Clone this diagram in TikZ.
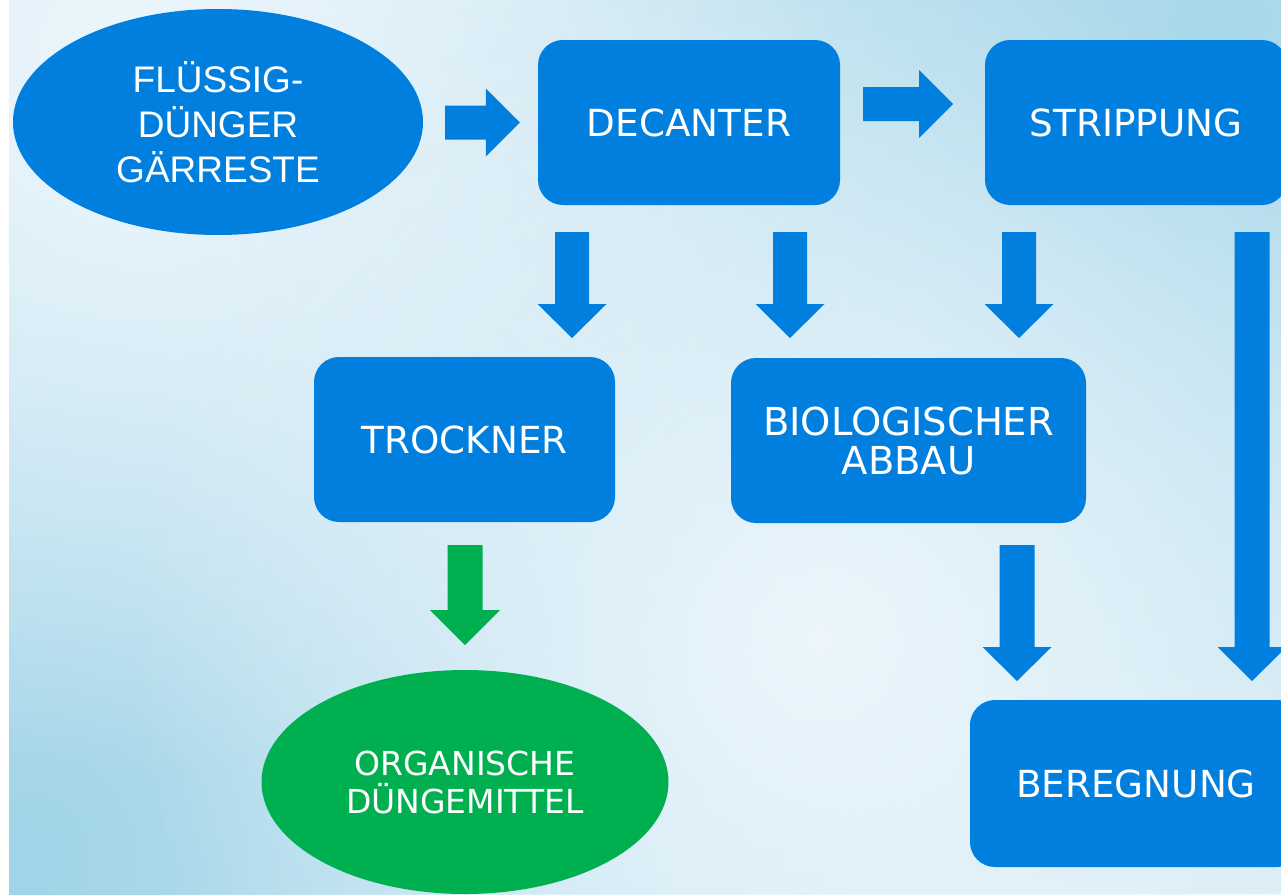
\documentclass[tikz,border=0pt]{standalone}
\usepackage{fontspec}
\setmainfont{DejaVu Sans}
\newfontfamily\arialfont{Liberation Sans}
\usetikzlibrary{shapes.geometric,calc,fadings}
\definecolor{bgbase}{RGB}{222,239,247}
\definecolor{bgtr}{RGB}{168,216,234}
\definecolor{bgbl}{RGB}{160,212,232}
\definecolor{bglight}{RGB}{236,246,252}
\definecolor{boxblue}{RGB}{0,127,222}
\definecolor{leafgreen}{RGB}{0,176,80}
\tikzfading[name=softblob, inner color=transparent!0, outer color=transparent!100]
\tikzset{
  stepbox/.style={rectangle, rounded corners=25pt, fill=boxblue, text=white,
    minimum width=302pt, minimum height=165pt, inner sep=0pt, align=center,
    font=\fontsize{37.3}{46}\selectfont},
  bluebubble/.style={ellipse, fill=boxblue, text=white, inner sep=0pt, align=center},
  greenbubble/.style={ellipse, fill=leafgreen, text=white, inner sep=0pt, align=center},
}
% down block arrow: #1 start, #2 tip, #3 shaft half width, #4 head half width, #5 head length, #6 colour
\newcommand{\dblockarrow}[6]{%
  \fill[#6] let \p1=(#1), \p2=(#2) in
    (\x2-#3,\y1) -- (\x2+#3,\y1) -- (\x2+#3,\y2+#5) -- (\x2+#4,\y2+#5) -- (\x2,\y2)
    -- (\x2-#4,\y2+#5) -- (\x2-#3,\y2+#5) -- cycle;}
% right block arrow
\newcommand{\rblockarrow}[6]{%
  \fill[#6] let \p1=(#1), \p2=(#2) in
    (\x1,\y2-#3) -- (\x2-#5,\y2-#3) -- (\x2-#5,\y2-#4) -- (\x2,\y2)
    -- (\x2-#5,\y2+#4) -- (\x2-#5,\y2+#3) -- (\x1,\y2+#3) -- cycle;}
\begin{document}
\begin{tikzpicture}[x=1pt,y=-1pt]
\useasboundingbox (0,0) rectangle (1281,894);
\clip (0,0) rectangle (1281,894);
\fill[white] (0,0) rectangle (1281,894);
\begin{scope}
  \clip (9,0) rectangle (1281,894);
  \fill[bgbase] (9,0) rectangle (1281,894);
  \fill[bgtr, path fading=softblob] (1220,20) circle (1000);
  \fill[bgbl, path fading=softblob] (20,860) circle (1000);
  \fill[bglight, path fading=softblob] (140,80) circle (700);
  \fill[bglight, path fading=softblob] (820,640) circle (700);
\end{scope}

% nodes
\node[bluebubble, minimum width=410pt, minimum height=226pt,
      font=\arialfont\fontsize{37}{45}\selectfont] (src) at (218,122)
      {FLÜSSIG-\\DÜNGER\\GÄRRESTE};
\node[stepbox] (dec) at (689,122.5) {DECANTER};
\node[stepbox] (strip) at (1136,122.5) {STRIPPUNG};
\node[stepbox, minimum width=301pt] (troc) at (464.5,439.5) {TROCKNER};
\node[stepbox, minimum width=355pt, font=\fontsize{38.5}{39}\selectfont] (bio) at (908.5,440.5) {BIOLOGISCHER\\ABBAU};
\node[stepbox, minimum width=332pt, minimum height=167pt] (bereg) at (1136,783.5) {BEREGNUNG};
\node[greenbubble, minimum width=407pt, minimum height=224pt,
      font=\fontsize{33}{38}\selectfont] (org) at (465,782) {ORGANISCHE\\DÜNGEMITTEL};

% arrow end points
\coordinate (r1s) at ($(src.east)+(22,0)$);
\coordinate (r1t) at ($(dec.west)+(-18,0)$);
\coordinate (r2s) at (863,104);
\coordinate (r2t) at (953,104);
\coordinate (d1s) at (572,232);  \coordinate (d1t) at (572,338);
\coordinate (d2s) at (790,232);  \coordinate (d2t) at (790,338);
\coordinate (d3s) at (1019,232); \coordinate (d3t) at (1019,338);
\coordinate (d4s) at (1252,232); \coordinate (d4t) at (1252,681);
\coordinate (d5s) at (1017,545); \coordinate (d5t) at (1017,681);
\coordinate (g1s) at (465,545);  \coordinate (g1t) at (465,645);

\rblockarrow{r1s}{r1t}{17pt}{34pt}{34pt}{boxblue}
\rblockarrow{r2s}{r2t}{17pt}{34pt}{34pt}{boxblue}
\dblockarrow{d1s}{d1t}{17pt}{34.5pt}{34pt}{boxblue}
\dblockarrow{d2s}{d2t}{17pt}{34.5pt}{34pt}{boxblue}
\dblockarrow{d3s}{d3t}{17pt}{34.5pt}{34pt}{boxblue}
\dblockarrow{d4s}{d4t}{17.5pt}{34.5pt}{34pt}{boxblue}
\dblockarrow{d5s}{d5t}{17.5pt}{34.5pt}{34pt}{boxblue}
\dblockarrow{g1s}{g1t}{17.5pt}{35pt}{35pt}{leafgreen}
\end{tikzpicture}
\end{document}
